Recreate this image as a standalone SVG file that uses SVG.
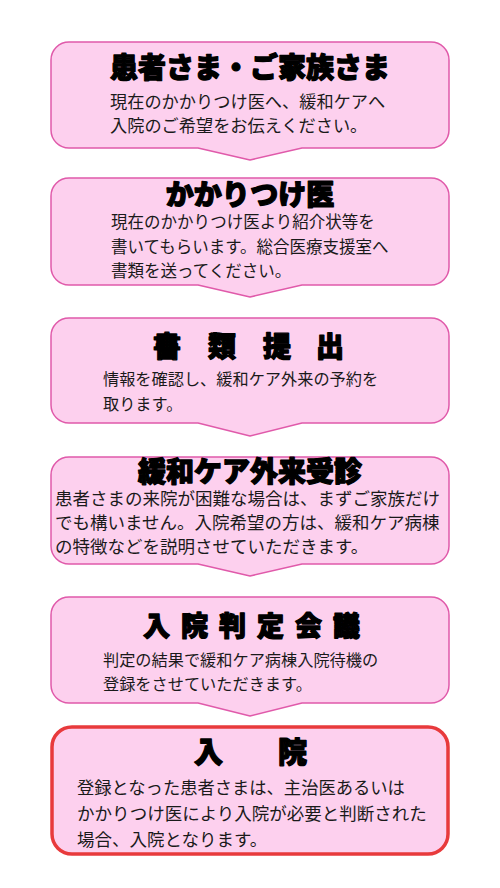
<svg xmlns="http://www.w3.org/2000/svg" width="500" height="888" viewBox="0 0 500 888">
<style>
.box{fill:#fdd0ee;stroke:#e05aaa;stroke-width:1.5;stroke-linejoin:round}
.final{fill:#fdd0ee;stroke:#e83a3c;stroke-width:3.5}
.title{font-family:"Noto Sans CJK JP","Noto Sans CJK SC",sans-serif;font-weight:900;font-size:28px;fill:#000;stroke:#000;stroke-width:1.3;stroke-linejoin:round}
.body{font-family:"Noto Sans CJK JP","Noto Sans CJK SC",sans-serif;font-weight:400;font-size:16.5px;fill:#1a1a1a}
</style>
<rect width="500" height="888" fill="#fff"/>
<g id="connectors"></g>
<g id="node1">
<path class="box" d="M69,42 H431 A18,18 0 0 1 449,60 V130 A18,18 0 0 1 431,148 H302 L250,160 L198,148 H69 A18,18 0 0 1 51,130 V60 A18,18 0 0 1 69,42 Z"/>
<text class="title" x="250" y="78" text-anchor="middle">患者さま・ご家族さま</text>
<text class="body" x="110" y="108" style="font-size:17.2px">現在のかかりつけ医へ、緩和ケアへ</text>
<text class="body" x="110" y="132" style="font-size:17.2px">入院のご希望をお伝えください。</text>
</g>
<g id="node2">
<path class="box" d="M69,178 H431 A18,18 0 0 1 449,196 V267 A18,18 0 0 1 431,285 H302 L250,297 L198,285 H69 A18,18 0 0 1 51,267 V196 A18,18 0 0 1 69,178 Z"/>
<text class="title" x="250" y="205" text-anchor="middle">かかりつけ医</text>
<text class="body" x="111" y="228">現在のかかりつけ医より紹介状等を</text>
<text class="body" x="111" y="253">書いてもらいます。総合医療支援室へ</text>
<text class="body" x="111" y="277">書類を送ってください。</text>
</g>
<g id="node3">
<path class="box" d="M69,318 H431 A18,18 0 0 1 449,336 V405 A18,18 0 0 1 431,423 H302 L250,436 L198,423 H69 A18,18 0 0 1 51,405 V336 A18,18 0 0 1 69,318 Z"/>
<text class="title" x="153 181 208 236 263 290 316" y="357">書 類 提 出</text>
<text class="body" x="103" y="385" style="font-size:16.2px">情報を確認し、緩和ケア外来の予約を</text>
<text class="body" x="103" y="410" style="font-size:16.2px">取ります。</text>
</g>
<g id="node4">
<path class="box" d="M69,457 H431 A18,18 0 0 1 449,475 V546 A18,18 0 0 1 431,564 H302 L250,576 L198,564 H69 A18,18 0 0 1 51,546 V475 A18,18 0 0 1 69,457 Z"/>
<text class="title" x="250" y="482" text-anchor="middle">緩和ケア外来受診</text>
<text class="body" x="55" y="505" style="font-size:17.5px">患者さまの来院が困難な場合は、まずご家族だけ</text>
<text class="body" x="55" y="529" style="font-size:17.5px">でも構いません。入院希望の方は、緩和ケア病棟</text>
<text class="body" x="55" y="553" style="font-size:17.5px">の特徴などを説明させていただきます。</text>
</g>
<g id="node5">
<path class="box" d="M69,597 H431 A18,18 0 0 1 449,615 V685 A18,18 0 0 1 431,703 H302 L250,716 L198,703 H69 A18,18 0 0 1 51,685 V615 A18,18 0 0 1 69,597 Z"/>
<text class="title" x="143 162 181 200 219 238 257 276 295 314 333" y="636" style="font-size:27px">入 院 判 定 会 議</text>
<text class="body" x="103" y="666" style="font-size:16.2px">判定の結果で緩和ケア病棟入院待機の</text>
<text class="body" x="103" y="690" style="font-size:16.2px">登録をさせていただきます。</text>
</g>
<g id="node6">
<rect class="final" x="52" y="727" width="396" height="127" rx="20" ry="20"/>
<text class="title" x="194 236 278" y="763" style="font-size:29px">入 院</text>
<text class="body" x="77" y="794" style="font-size:17.3px">登録となった患者さまは、主治医あるいは</text>
<text class="body" x="77" y="820" style="font-size:17.5px">かかりつけ医により入院が必要と判断された</text>
<text class="body" x="77" y="846" style="font-size:17.5px">場合、入院となります。</text>
</g>
</svg>
